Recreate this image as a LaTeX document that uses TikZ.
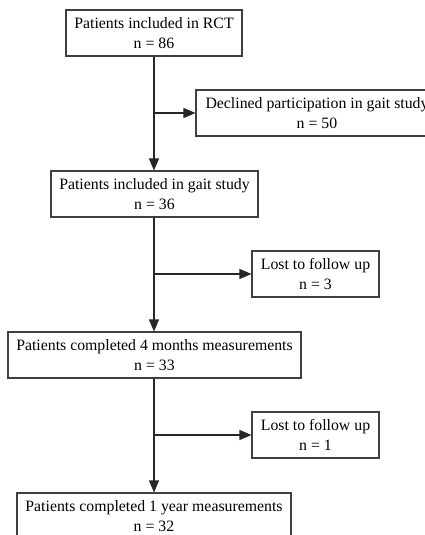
\documentclass[tikz,border=0pt]{standalone}
\usepackage{fontspec}
\setmainfont{Liberation Serif}
\usetikzlibrary{arrows.meta}
\begin{document}
\begin{tikzpicture}
  [x=1pt,y=-1pt,
   every node/.style={draw=black!75,line width=1.1pt,align=center,minimum height=46pt,inner sep=0pt,
     font=\fontsize{15.8}{20}\selectfont},
   flow/.style={draw=black!85,line width=1.1pt,-{Triangle[length=12pt,width=10pt]}}]
  \clip (0,0) rectangle (425,535);
  \node[minimum width=176pt] (rct) at (154,33) {Patients included in RCT\\n = 86};
  \node[minimum width=242pt] (declined) at (317,113) {Declined participation in gait study\\n = 50};
  \node[minimum width=207pt] (gait) at (154.5,194) {Patients included in gait study\\n = 36};
  \node[minimum width=127pt] (lost1) at (315.5,274) {Lost to follow up\\n = 3};
  \node[minimum width=293pt] (month4) at (154.5,355) {Patients completed 4 months measurements\\n = 33};
  \node[minimum width=127pt] (lost2) at (315.5,435) {Lost to follow up\\n = 1};
  \node[minimum width=274pt] (year1) at (154,516) {Patients completed 1 year measurements\\n = 32};

  \coordinate (s1) at (154,113);
  \coordinate (s2) at (154,274);
  \coordinate (s3) at (154,435);

  \foreach \from/\to in {rct/gait, gait/month4, month4/year1}
    \draw[flow] (\from.south -| 154,0) -- (\to.north -| 154,0);
  \foreach \from/\to in {s1/declined, s2/lost1, s3/lost2}
    \draw[flow] (\from) -- (\to.west);

\end{tikzpicture}
\end{document}
